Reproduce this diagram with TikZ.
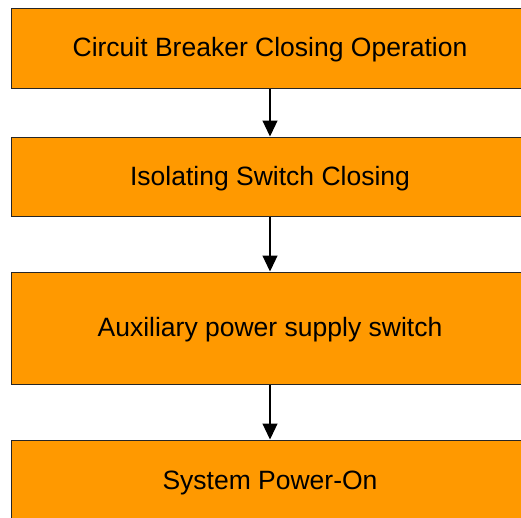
\documentclass[tikz,border=0pt]{standalone}
\usepackage{fontspec}
\setmainfont{Liberation Sans}
\usetikzlibrary{arrows.meta}
\definecolor{boxorange}{HTML}{FF9900}
\begin{document}
\begin{tikzpicture}[x=1pt,y=-1pt,
  stepbox/.style={draw=black!85,line width=1pt,fill=boxorange,rectangle,
    minimum width=518pt,inner sep=0pt,text height=17pt,text depth=0pt,
    font=\fontsize{26.5}{30}\selectfont,text=black},
  flow/.style={-{Triangle[width=15pt,length=16pt]},line width=1.2pt}]
\useasboundingbox (0,0) rectangle (521,517);
\clip (0,0) rectangle (521,517);
\fill[white] (0,0) rectangle (521,517);
\node[stepbox,minimum height=79.5pt] (a) at (270,48.25) {Circuit Breaker Closing Operation};
\node[stepbox,minimum height=79pt] (b) at (270,176.5) {Isolating Switch Closing};
\node[stepbox,minimum height=112pt] (c) at (270,328) {Auxiliary power supply switch};
\node[stepbox,minimum height=82pt] (d) at (270,481) {System Power-On};
\draw[flow] (a.south) -- (b.north);
\draw[flow] (b.south) -- (c.north);
\draw[flow] (c.south) -- (d.north);
\end{tikzpicture}
\end{document}
